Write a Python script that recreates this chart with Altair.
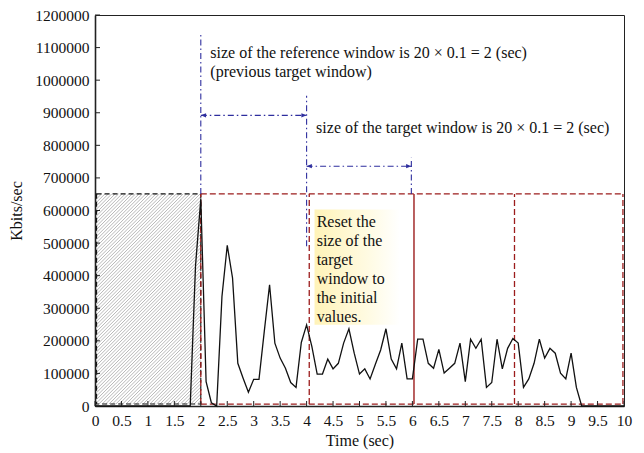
import altair as alt
import pandas as pd
import numpy as np

# ---------------- data ----------------
time_sec = np.round(np.arange(0, 10.0001, 0.1), 1)  # sampling interval 0.1 s
kbits = [0, 0, 0, 0, 0, 0, 0, 0, 0, 0, 0, 0, 0, 0, 0, 0, 0, 0, 0,
         430000, 635000, 75000, 10000, 0, 336000, 493000, 393000, 131000, 85000, 42000,
         82000, 82000, 229000, 372000, 193000, 147000, 116000, 72000, 57000, 195000,
         249000, 182000, 98000, 98000, 144000, 114000, 131000, 193000, 237000, 162000,
         98000, 114000, 83000, 128000, 172000, 237000, 144000, 114000, 193000, 83000,
         83000, 205000, 205000, 131000, 116000, 174000, 101000, 116000, 131000, 193000,
         75000, 205000, 177000, 205000, 57000, 72000, 205000, 114000, 177000, 207000,
         193000, 57000, 83000, 131000, 205000, 147000, 177000, 162000, 101000, 83000,
         162000, 57000,
         0, 0, 0, 0, 0, 0, 0, 0, 0]

x_ticks = [0, 0.5, 1, 1.5, 2, 2.5, 3, 3.5, 4, 4.5, 5, 5.5, 6, 6.5, 7, 7.5, 8, 8.5, 9, 9.5, 10]
y_ticks = [0, 100000, 200000, 300000, 400000, 500000, 600000, 700000, 800000,
           900000, 1000000, 1100000, 1200000]

# window boxes
win_top = 651000
win_bottom = 6000
ref_box = {"x0": 0.03, "x1": 2.0}            # hatched initial window
red_dashed_x = [2.0, 4.05, 7.93, 9.98]
red_solid_x = [6.03]
# blue dash-dot markers: x, y_from, y_to
blue_x = [2.0, 4.0, 5.98]
blue_y0 = [651000, 490000, 651000]
blue_y1 = [1147000, 952000, 762000]
# arrows: from, to, level
arrow_x0 = [2.0, 4.0]
arrow_x1 = [4.0, 5.98]
arrow_y = [892000, 736000]

# text annotations (position = first line)
ref_text = ["size of the reference window is 20 \u00d7 0.1 = 2 (sec)", "(previous target window)"]
ref_text_pos = (2.18, 1083000)
tgt_text = "size of the target window is 20 \u00d7 0.1 = 2 (sec)"
tgt_text_pos = (4.18, 852000)
reset_text = ["Reset the", "size of the", "target", "window to", "the initial", "values."]
reset_text_pos = (4.19, 564000)
reset_box = {"x0": 4.15, "x1": 5.76, "y0": 249000, "y1": 603000}

# ---------------- layout ----------------
W, H = 529, 391
XMAX, YMAX = 10, 1200000
FONT = "Liberation Serif, Times New Roman, serif"
RED = "#9c1c1c"
BLUE = "#2e2e9e"

xs = alt.Scale(domain=[0, XMAX], nice=False, zero=False)
ys = alt.Scale(domain=[0, YMAX], nice=False, zero=False)

x_axis = alt.Axis(values=x_ticks, format="~g", ticks=False, grid=False, labelPadding=7,
                  labelOverlap=False, labelFont=FONT, labelFontSize=15.5, titleFont=FONT,
                  title="Time (sec)", titlePadding=4, titleFontSize=16)
y_axis = alt.Axis(values=y_ticks, format="d", ticks=False, grid=False, labelPadding=6,
                  labelOverlap=False, labelFont=FONT, labelFontSize=15.5, titleFont=FONT,
                  title="Kbits/sec", titlePadding=10, titleFontSize=16)


def X(f):
    return alt.X(f, type="quantitative", scale=xs, axis=x_axis)


def Y(f):
    return alt.Y(f, type="quantitative", scale=ys, axis=y_axis)


# hatch lines inside the initial window (decoration)
kx = W / XMAX
ky = H / YMAX
Wp = (ref_box["x1"] - ref_box["x0"]) * kx
Hp = (win_top - win_bottom) * ky
hx0, hy0, hx1, hy1 = [], [], [], []
for c in np.arange(-Wp, Hp, 3.4):
    xa = max(0.0, -c)
    xb = min(Wp, Hp - c)
    if xb > xa:
        hx0.append(ref_box["x0"] + xa / kx)
        hy0.append(win_bottom + (xa + c) / ky)
        hx1.append(ref_box["x0"] + xb / kx)
        hy1.append(win_bottom + (xb + c) / ky)
hatch_df = pd.DataFrame({"x": hx0, "y": hy0, "x2": hx1, "y2": hy1})
hatch = alt.Chart(hatch_df).mark_rule(color="#b0b0b0", strokeWidth=0.9).encode(
    x=X("x"), y=Y("y"), x2="x2", y2="y2")

ref_rect = alt.Chart(pd.DataFrame({"x": [ref_box["x0"]], "x2": [ref_box["x1"]],
                                   "y": [win_bottom], "y2": [win_top]})).mark_rect(
    fillOpacity=0, stroke="#111111", strokeWidth=1.1, strokeDash=[5, 3]).encode(
    x=X("x"), x2="x2", y=Y("y"), y2="y2")

# red windows
red_h = alt.Chart(pd.DataFrame({"x": [2.0, 2.0], "x2": [9.98, 9.98],
                                "y": [win_top, win_bottom]})).mark_rule(
    color=RED, strokeWidth=1.3, strokeDash=[6, 3]).encode(x=X("x"), x2="x2", y=Y("y"))
red_v = alt.Chart(pd.DataFrame({"x": red_dashed_x, "lo": [win_bottom] * len(red_dashed_x),
                                "hi": [win_top] * len(red_dashed_x)})).mark_rule(
    color=RED, strokeWidth=1.3, strokeDash=[6, 3]).encode(
    x=X("x"), y=Y("lo"), y2="hi")
red_s = alt.Chart(pd.DataFrame({"x": red_solid_x, "lo": [win_bottom] * len(red_solid_x),
                                "hi": [win_top] * len(red_solid_x)})).mark_rule(
    color=RED, strokeWidth=1.4).encode(
    x=X("x"), y=Y("lo"), y2="hi")

# blue dash-dot markers
blue_v = alt.Chart(pd.DataFrame({"x": blue_x, "y": blue_y0, "y2": blue_y1})).mark_rule(
    color=BLUE, strokeWidth=1.1, strokeDash=[6, 3, 1.5, 3]).encode(
    x=X("x"), y=Y("y"), y2="y2")
arrows = alt.Chart(pd.DataFrame({"x": arrow_x0, "x2": arrow_x1, "y": arrow_y})).mark_rule(
    color=BLUE, strokeWidth=1.1, strokeDash=[6, 3, 1.5, 3]).encode(
    x=X("x"), x2="x2", y=Y("y"))
head_r = alt.Chart(pd.DataFrame({"x": arrow_x1, "y": arrow_y})).mark_point(
    shape="M0,0L-1,-0.4L-1,0.4Z", size=110, filled=True, color=BLUE, opacity=1).encode(
    x=X("x"), y=Y("y"))
head_l = alt.Chart(pd.DataFrame({"x": arrow_x0, "y": arrow_y})).mark_point(
    shape="M0,0L1,-0.4L1,0.4Z", size=110, filled=True, color=BLUE, opacity=1).encode(
    x=X("x"), y=Y("y"))

# yellow note box
note_box = alt.Chart(pd.DataFrame({"x": [reset_box["x0"]], "x2": [reset_box["x1"]],
                                   "y": [reset_box["y0"]], "y2": [reset_box["y1"]]})).mark_rect(
    fill=alt.Gradient(gradient="linear",
                      stops=[alt.GradientStop(color="#fff3b8", offset=0),
                             alt.GradientStop(color="#fffbe4", offset=0.65),
                             alt.GradientStop(color="#ffffff", offset=1)],
                      x1=0, x2=1, y1=0, y2=0)).encode(x=X("x"), x2="x2", y=Y("y"), y2="y2")

txt_props = dict(font=FONT, fontSize=16, color="#111111", align="left", baseline="middle",
                 lineHeight=19)
ref_txt = alt.Chart(pd.DataFrame({"x": [ref_text_pos[0]], "y": [ref_text_pos[1]]})).mark_text(
    text=ref_text, **txt_props).encode(x=X("x"), y=Y("y"))
tgt_txt = alt.Chart(pd.DataFrame({"x": [tgt_text_pos[0]], "y": [tgt_text_pos[1]]})).mark_text(
    text=tgt_text, **txt_props).encode(x=X("x"), y=Y("y"))
reset_txt = alt.Chart(pd.DataFrame({"x": [reset_text_pos[0]], "y": [reset_text_pos[1]]})).mark_text(
    text=reset_text, **txt_props).encode(x=X("x"), y=Y("y"))

# traffic line
line = alt.Chart(pd.DataFrame({"t": time_sec, "v": kbits})).mark_line(
    color="#111111", strokeWidth=1.3).encode(x=X("t"), y=Y("v"))

# inward ticks
xt = alt.Chart(pd.DataFrame({"x": x_ticks})).mark_rule(color="#222222", strokeWidth=1).encode(
    x=X("x"), y=alt.value(H), y2=alt.value(H - 5))
yt = alt.Chart(pd.DataFrame({"y": y_ticks})).mark_rule(color="#222222", strokeWidth=1).encode(
    y=Y("y"), x=alt.value(0), x2=alt.value(5))

chart = alt.layer(note_box, hatch, ref_rect, red_h, red_v, red_s, blue_v, arrows, head_r, head_l,
                  ref_txt, tgt_txt, reset_txt, line, xt, yt).properties(
    width=W, height=H,
    autosize=alt.AutoSizeParams(type="none"),
    padding={"left": 95, "top": 15, "right": 20, "bottom": 47},
    background="white",
).configure_view(stroke="#222222", strokeWidth=1).configure_axis(
    labelFont=FONT, titleFont=FONT, labelColor="#111111",
    titleColor="#111111", titleFontWeight="normal", domainColor="#222222", domainWidth=1.6,
    labelFlush=False, labelOverlap=False)

chart.save("out.html", embed_options={"renderer": "svg", "actions": False})
